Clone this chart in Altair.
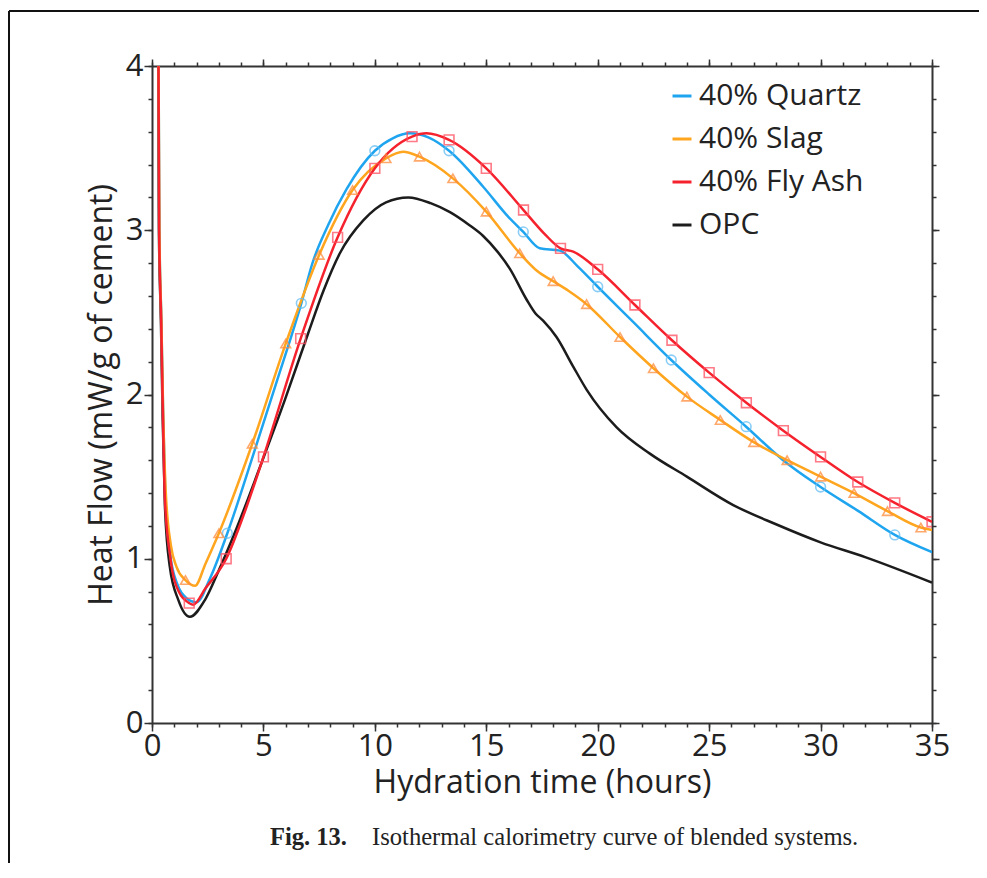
import altair as alt
import pandas as pd

SERIES = ["40% Quartz", "40% Slag", "40% Fly Ash", "OPC"]
LINE_COLORS = ["#1fa5ef", "#ffa51e", "#f5222d", "#1c1c1c"]
MARKER_SERIES = ["40% Quartz", "40% Slag", "40% Fly Ash"]
MARKER_COLORS = ["#62bdf3", "#ff8c3c", "#ff4d5e"]
MARKER_SHAPES = ["circle", "triangle-up", "square"]

X_MAJOR = [0, 5, 10, 15, 20, 25, 30, 35]
X_MINOR = list(range(0, 36))
Y_MAJOR = [0, 1, 2, 3, 4]
Y_MINOR = [0, 0.2, 0.4, 0.6, 0.8, 1, 1.2, 1.4, 1.6, 1.8, 2, 2.2, 2.4, 2.6, 2.8,
           3, 3.2, 3.4, 3.6, 3.8, 4]

# ---- line data (hours, mW/g) ----
OPC_T = [0.27, 0.31, 0.40, 0.48, 0.58, 0.80, 1.18, 1.70, 2.38, 3.0, 3.72, 4.85,
         5.97, 7.0, 7.69, 8.43, 9.48, 10.5, 11.5, 12.5, 13.37, 14.2, 14.86,
         15.5, 16.06, 16.8, 17.2, 17.55, 18.15, 18.9, 19.5, 20.85, 22.34, 24.0,
         26.08, 28.0, 30.0, 32.0, 35.0]
OPC_Y = [4.4, 3.0, 2.45, 1.85, 1.32, 0.95, 0.75, 0.647, 0.75, 0.93, 1.16, 1.56,
         1.97, 2.37, 2.63, 2.86, 3.06, 3.17, 3.20, 3.165, 3.11, 3.035, 2.965,
         2.87, 2.765, 2.58, 2.495, 2.45, 2.35, 2.17, 2.03, 1.80, 1.64, 1.50,
         1.327, 1.21, 1.10, 1.01, 0.855]

QZ_T = [0.28, 0.33, 0.42, 0.50, 0.60, 0.82, 1.15, 1.55, 2.0, 2.6, 3.38, 4.7,
        5.6, 6.7, 7.2, 7.9, 8.73, 10.0, 10.8, 11.57, 12.4, 13.33, 14.86, 16.0,
        16.66, 17.4, 18.3, 19.1, 20.0, 21.6, 23.3, 25.0, 26.66, 28.32, 30.0,
        31.7, 33.33, 35.0]
QZ_Y = [4.4, 3.0, 2.45, 1.88, 1.38, 1.02, 0.84, 0.76, 0.735, 0.88, 1.155, 1.70,
        2.08, 2.555, 2.80, 3.03, 3.25, 3.484, 3.56, 3.59, 3.565, 3.484, 3.265,
        3.08, 2.99, 2.89, 2.876, 2.78, 2.656, 2.44, 2.21, 2.0, 1.804, 1.60,
        1.437, 1.29, 1.145, 1.04]

SL_T = [0.28, 0.33, 0.42, 0.50, 0.62, 0.85, 1.1, 1.5, 1.93, 2.4, 3.0, 4.5, 6.0,
        7.5, 9.0, 10.5, 11.27, 12.0, 13.5, 15.0, 16.5, 17.3, 18.0, 18.7, 19.5,
        21.0, 22.5, 24.0, 25.5, 27.0, 28.5, 30.0, 31.5, 33.0, 34.5, 35.0]
SL_Y = [4.4, 3.0, 2.45, 1.9, 1.4, 1.08, 0.95, 0.87, 0.835, 0.97, 1.155, 1.70,
        2.31, 2.85, 3.245, 3.438, 3.478, 3.448, 3.316, 3.113, 2.86, 2.75, 2.69,
        2.63, 2.55, 2.35, 2.16, 1.987, 1.845, 1.71, 1.60, 1.50, 1.40, 1.29,
        1.19, 1.175]

FA_T = [0.28, 0.32, 0.41, 0.49, 0.58, 0.83, 1.2, 1.67, 1.85, 2.4, 3.33, 4.2,
        5.0, 6.67, 8.33, 10.0, 11.67, 12.32, 13.33, 15.0, 16.67, 17.6, 18.33,
        18.9, 20.0, 21.67, 23.33, 25.0, 26.67, 28.33, 30.0, 31.67, 33.33, 35.0]
FA_Y = [4.4, 3.0, 2.45, 1.87, 1.36, 1.0, 0.8, 0.73, 0.72, 0.82, 1.0, 1.3,
        1.62, 2.34, 2.957, 3.377, 3.57, 3.59, 3.55, 3.377, 3.123, 2.98, 2.89,
        2.87, 2.762, 2.545, 2.33, 2.133, 1.95, 1.78, 1.62, 1.467, 1.34, 1.225]

# ---- marker positions ----
QZ_MT = [3.38, 6.7, 10.0, 13.33, 16.66, 20.0, 23.3, 26.66, 30.0, 33.33]
QZ_MY = [1.155, 2.555, 3.484, 3.484, 2.99, 2.656, 2.21, 1.804, 1.437, 1.145]
SL_MT = [1.5, 3.0, 4.5, 6.0, 7.5, 9.0, 10.5, 12.0, 13.5, 15.0, 16.5, 18.0, 19.5,
         21.0, 22.5, 24.0, 25.5, 27.0, 28.5, 30.0, 31.5, 33.0, 34.5]
SL_MY = [0.87, 1.155, 1.70, 2.31, 2.85, 3.245, 3.438, 3.448, 3.316, 3.113, 2.86,
         2.69, 2.55, 2.35, 2.16, 1.987, 1.845, 1.71, 1.60, 1.50, 1.40, 1.29, 1.19]
FA_MT = [1.67, 3.33, 5.0, 6.67, 8.33, 10.0, 11.67, 13.33, 15.0, 16.67, 18.33,
         20.0, 21.67, 23.33, 25.0, 26.67, 28.33, 30.0, 31.67, 33.33, 35.0]
FA_MY = [0.73, 1.0, 1.62, 2.34, 2.957, 3.377, 3.57, 3.55, 3.377, 3.123, 2.89,
         2.762, 2.545, 2.33, 2.133, 1.95, 1.78, 1.62, 1.467, 1.34, 1.225]

CAPTION_BOLD = "Fig. 13."
CAPTION_TEXT = "Isothermal calorimetry curve of blended systems."

rows = []
for name, ts, ys in [("OPC", OPC_T, OPC_Y), ("40% Quartz", QZ_T, QZ_Y),
                     ("40% Slag", SL_T, SL_Y), ("40% Fly Ash", FA_T, FA_Y)]:
    for i, (t, y) in enumerate(zip(ts, ys)):
        rows.append({"series": name, "t": t, "y": y, "i": i})
lines_df = pd.DataFrame(rows)

mrows = []
for name, ts, ys in [("40% Quartz", QZ_MT, QZ_MY), ("40% Slag", SL_MT, SL_MY),
                     ("40% Fly Ash", FA_MT, FA_MY)]:
    for t, y in zip(ts, ys):
        mrows.append({"series": name, "t": t, "y": y})
markers_df = pd.DataFrame(mrows)

W, H = 780, 657
FONT = "Open Sans"
AX = "#333333"

xs = alt.Scale(domain=[0, 35], nice=False, zero=False)
ys = alt.Scale(domain=[0, 4], nice=False)


def x_axis(orient, values, size, labels, title=None):
    kw = dict(orient=orient, values=values, tickSize=size, tickWidth=1.5,
              tickColor=AX, grid=False, domain=labels is not None,
              domainColor=AX, domainWidth=2)
    if labels:
        kw.update(labels=True, labelFont=FONT, labelFontSize=31,
                  labelColor="#222222", labelPadding=0, labelFlush=False,
                  labelOverlap=False, title=title, titleFont=FONT,
                  titleFontSize=32, titleFontWeight="normal",
                  titleColor="#222222", titlePadding=6)
    else:
        kw.update(labels=False, title=None)
    return alt.Axis(**kw)


def y_axis(orient, values, size, labels, title=None):
    kw = dict(orient=orient, values=values, tickSize=size, tickWidth=1.5,
              tickColor=AX, grid=False, domain=labels is not None,
              domainColor=AX, domainWidth=2)
    if labels:
        kw.update(labels=True, labelFont=FONT, labelFontSize=31,
                  labelColor="#222222", labelPadding=1, labelFlush=False,
                  labelOverlap=False, title=title, titleFont=FONT,
                  titleFontSize=32, titleFontWeight="normal",
                  titleColor="#222222", titlePadding=7)
    else:
        kw.update(labels=False, title=None)
    return alt.Axis(**kw)


lines = alt.Chart(lines_df).mark_line(
    interpolate="monotone", strokeWidth=2.5, clip=True
).encode(
    x=alt.X("t:Q", scale=xs,
            axis=x_axis("bottom", X_MAJOR, 8, True, "Hydration time (hours)")),
    y=alt.Y("y:Q", scale=ys,
            axis=y_axis("left", Y_MAJOR, 8, True, "Heat Flow (mW/g of cement)")),
    color=alt.Color("series:N",
                    scale=alt.Scale(domain=SERIES, range=LINE_COLORS),
                    legend=alt.Legend(title=None, orient="none", legendX=515,
                                      legendY=15, symbolType="stroke",
                                      symbolSize=361, symbolStrokeWidth=3,
                                      labelFont=FONT, labelFontSize=30,
                                      labelColor="#222222", labelOffset=2,
                                      rowPadding=13, labelLimit=400)),
    detail="series:N",
    order="i:Q",
)

points = alt.Chart(markers_df).mark_point(
    filled=False, size=95, strokeWidth=1.6, opacity=0.75, clip=True
).encode(
    x=alt.X("t:Q", scale=xs, axis=x_axis("bottom", X_MINOR, 4, None)),
    y=alt.Y("y:Q", scale=ys, axis=y_axis("left", Y_MINOR, 4, None)),
    stroke=alt.Stroke("series:N",
                      scale=alt.Scale(domain=MARKER_SERIES, range=MARKER_COLORS),
                      legend=None),
    shape=alt.Shape("series:N",
                    scale=alt.Scale(domain=MARKER_SERIES, range=MARKER_SHAPES),
                    legend=None),
)

ghost_major = alt.Chart(markers_df).mark_point(opacity=0).encode(
    x=alt.X("t:Q", scale=xs, axis=x_axis("top", X_MAJOR, 7, False)),
    y=alt.Y("y:Q", scale=ys, axis=y_axis("right", Y_MAJOR, 7, False)),
)
ghost_minor = alt.Chart(markers_df).mark_point(opacity=0).encode(
    x=alt.X("t:Q", scale=xs, axis=x_axis("top", X_MINOR, 4, None)),
    y=alt.Y("y:Q", scale=ys, axis=y_axis("right", Y_MINOR, 4, None)),
)

cap_df = pd.DataFrame({"a": [CAPTION_BOLD], "b": [CAPTION_TEXT]})
cap1 = alt.Chart(cap_df).mark_text(
    font="Liberation Serif", fontSize=24.5, fontWeight="bold", align="left",
    baseline="middle", color="#222222"
).encode(x=alt.value(118), y=alt.value(772), text="a:N")
cap2 = alt.Chart(cap_df).mark_text(
    font="Liberation Serif", fontSize=24.6, align="left", baseline="middle",
    color="#222222"
).encode(x=alt.value(220), y=alt.value(772), text="b:N")

frame_left = alt.Chart(cap_df).mark_rule(color="#111111", strokeWidth=2).encode(
    x=alt.value(-143), y=alt.value(-55), y2=alt.value(H + 140))
frame_top = alt.Chart(cap_df).mark_rule(color="#111111", strokeWidth=2).encode(
    x=alt.value(-143), x2=alt.value(W + 47), y=alt.value(-55))

chart = alt.layer(
    lines, points, ghost_major, ghost_minor, cap1, cap2, frame_left, frame_top
).resolve_axis(x="independent", y="independent").properties(
    width=W, height=H,
    autosize=alt.AutoSizeParams(type="none"),
    padding={"left": 144, "top": 58, "right": 47, "bottom": 140},
).configure_view(stroke=None).configure(background="white")

chart.save("out.html", embed_options={"renderer": "svg", "actions": False})
